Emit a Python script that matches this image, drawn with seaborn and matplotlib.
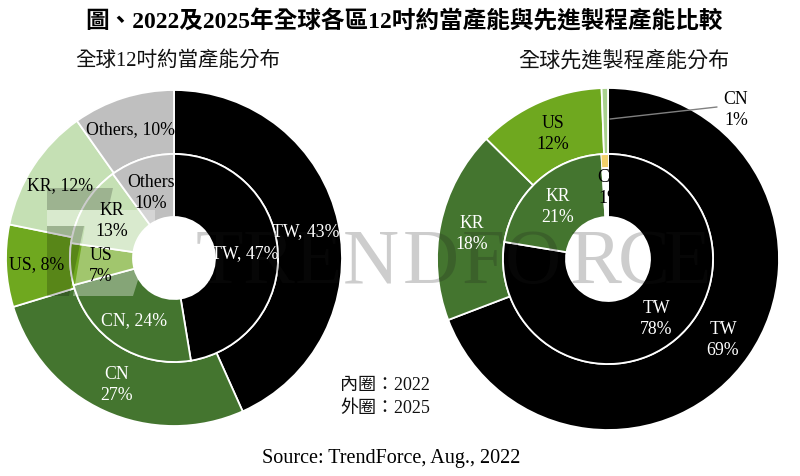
import matplotlib
matplotlib.use('Agg')
import matplotlib.pyplot as plt
import seaborn as sns
from matplotlib.patches import Polygon

sns.set_theme(style='white')
plt.rcParams['font.family'] = ['Liberation Serif', 'Noto Sans CJK TC']

W, H = 800, 477

title = '圖、2022及2025年全球各區12吋約當產能與先進製程產能比較'
sub_left = '全球12吋約當產能分布'
sub_right = '全球先進製程產能分布'
note = ['內圈：2022', '外圈：2025']
source = 'Source: TrendForce, Aug., 2022'

# left chart, clockwise from the top
left_regions = ['TW', 'CN', 'US', 'KR', 'Others']
left_2025 = [43.3, 27, 7.9, 12, 9.8]
left_2022 = [47.4, 23.4, 6.5, 12.7, 10]
left_2025_labels = ['TW, 43%', 'CN\n27%', 'US, 8%', 'KR, 12%', 'Others, 10%']
left_2022_labels = ['TW, 47%', 'CN, 24%', 'US\n7%', 'KR\n13%', 'Others\n10%']

# right chart
right_regions_2025 = ['TW', 'KR', 'US', 'CN']
right_2025 = [69.2, 18.2, 12, 0.6]
right_2025_labels = ['TW\n69%', 'KR\n18%', 'US\n12%', 'CN\n1%']
right_regions_2022 = ['TW', 'KR', 'CN']
right_2022 = [77.6, 21.4, 1]
right_2022_labels = ['TW\n78%', 'KR\n21%', 'CN\n1%']

black = '#000000'
dark = '#44752f'
mid = '#6fa81f'
light = '#c5e0b4'
grey = '#bfbfbf'
sliver = '#a9d18e'

fig = plt.figure(figsize=(W / 100, H / 100), dpi=100, facecolor='white')


def donut_axes(cx, cy, r):
    ax = fig.add_axes([(cx - r) / W, 1 - (cy + r) / H, 2 * r / W, 2 * r / H])
    return ax


def ring(ax, values, colors, radius, width):
    ax.pie(values, colors=colors, radius=radius, startangle=90, counterclock=False,
           wedgeprops=dict(width=width, edgecolor='white', linewidth=1.3))
    ax.set_xlim(-1, 1)
    ax.set_ylim(-1, 1)


# left donut
ax1 = donut_axes(174, 259, 168)
ax1.axis('off')
ring(ax1, left_2025, [black, dark, mid, light, grey], 1, 64 / 168)
ring(ax1, left_2022, [black, dark, mid, light, grey], 104 / 168, 63 / 168)

# right donut
ax2 = donut_axes(608, 260, 171)
ax2.axis('off')
ring(ax2, right_2025, [black, dark, mid, sliver], 1, 66 / 171)
ring(ax2, right_2022, [black, dark, 'white'], 105 / 171, 63 / 171)
# yellow tip on the small inner slice
ax2.pie(right_2022, colors=['none', 'none', '#f2d16b'], radius=104 / 171,
        startangle=90, counterclock=False,
        wedgeprops=dict(width=12 / 171, linewidth=0, edgecolor='none'))
ax2.set_xlim(-1, 1)
ax2.set_ylim(-1, 1)

# overlay in pixel coordinates for the texts and the watermark
top = fig.add_axes([0, 0, 1, 1], zorder=5)
top.set_xlim(0, W)
top.set_ylim(H, 0)
top.axis('off')

# watermark
top.add_patch(Polygon([(47, 211), (155, 211), (155, 227), (133, 297), (73, 297), (85, 227), (47, 227)],
                      fc='white', ec='none', alpha=0.35))
top.add_patch(Polygon([(47, 189), (113, 189), (108, 211), (47, 211)], fc='black', ec='none', alpha=0.2))
top.add_patch(Polygon([(47, 227), (84, 227), (69, 297), (47, 297)], fc='black', ec='none', alpha=0.2))
for ch, x in zip('TRENDFORCE', [196, 243, 295, 343, 403, 462, 505, 570, 618, 664]):
    top.text(x, 283, ch, fontsize=56, color='#1c1c1c', alpha=0.22, ha='left', va='baseline')

# headings
top.text(404, 22, title, fontsize=17, fontweight='bold', ha='center', va='center', color='black')
top.text(178, 61, sub_left, fontsize=14.8, ha='center', va='center', color='#111111')
top.text(624, 61, sub_right, fontsize=15.2, ha='center', va='center', color='#111111')
top.text(385, 386, note[0], fontsize=13, ha='center', va='center', color='#111111')
top.text(385, 409, note[1], fontsize=13, ha='center', va='center', color='#111111')
top.text(391, 459, source, fontsize=14.5, ha='center', va='center', color='black')

# leader line for the small outer slice
top.plot([610, 717], [120, 108], color='#808080', lw=1)

lab = dict(fontsize=12.8, ha='center', va='center', linespacing=1.25)

left_outer_pos = [(306, 232), (117, 385), (37, 265), (60, 186), (130, 130)]
left_outer_col = ['white', 'white', 'black', 'black', 'black']
for s, p, c in zip(left_2025_labels, left_outer_pos, left_outer_col):
    top.text(p[0], p[1], s, color=c, **lab)

left_inner_pos = [(245, 254), (134, 321), (101, 266), (112, 221), (151, 193)]
left_inner_col = ['white', 'white', 'black', 'black', 'black']
for s, p, c in zip(left_2022_labels, left_inner_pos, left_inner_col):
    top.text(p[0], p[1], s, color=c, **lab)

right_outer_pos = [(723, 340), (472, 234), (553, 134), (736, 110)]
right_outer_col = ['white', 'white', 'black', 'black']
for s, p, c in zip(right_2025_labels, right_outer_pos, right_outer_col):
    top.text(p[0], p[1], s, color=c, **lab)

right_inner_pos = [(656, 319), (558, 207), (610, 188)]
right_inner_col = ['white', 'white', 'black']
for s, p, c in zip(right_2022_labels, right_inner_pos, right_inner_col):
    top.text(p[0], p[1], s, color=c, **lab)

fig.savefig('out.png', dpi=100)
